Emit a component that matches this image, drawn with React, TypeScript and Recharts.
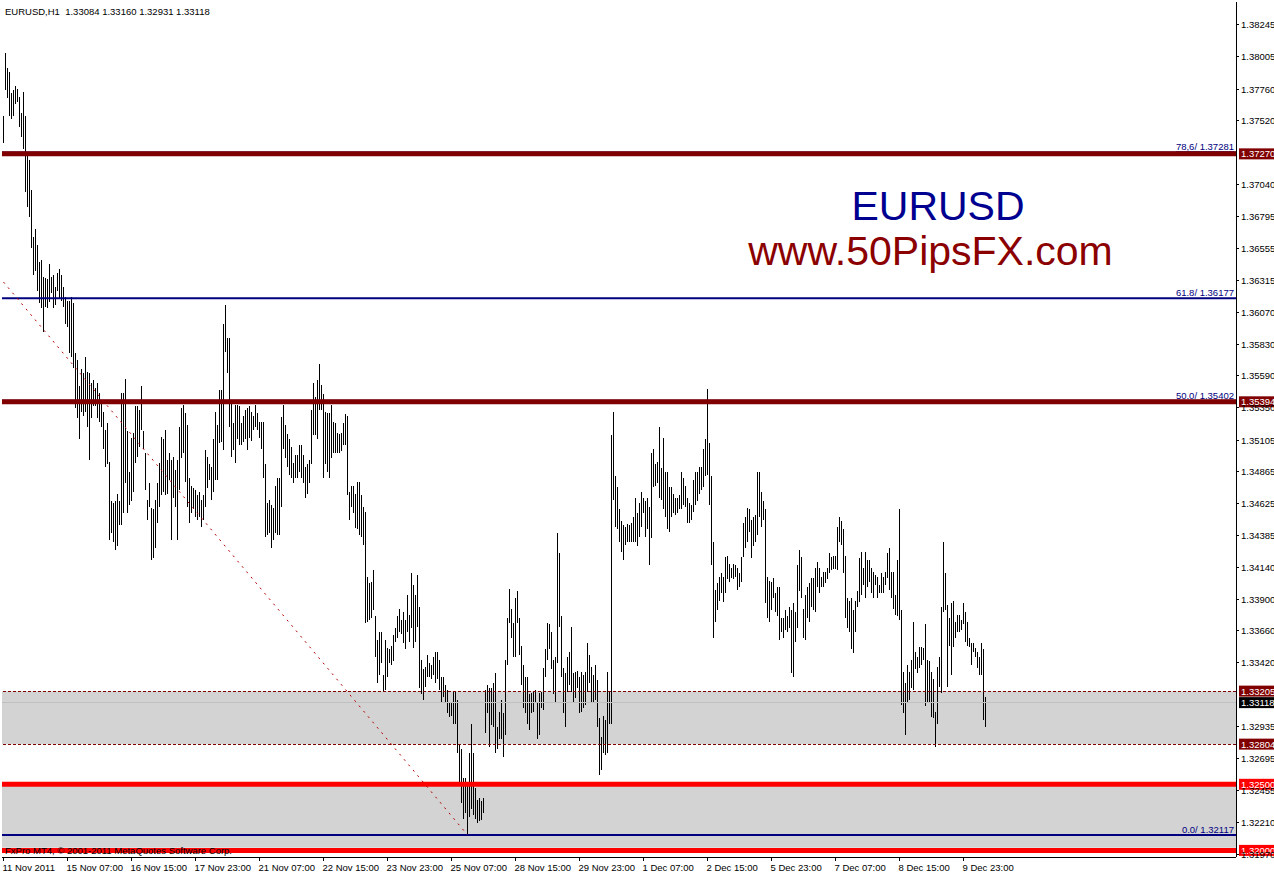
import { ComposedChart, Bar, XAxis, YAxis, ReferenceLine, ReferenceArea } from "recharts"

const FONT = '"Liberation Sans", Arial, sans-serif'

// EURUSD H1 bar highs / lows, 11 Nov 2011 -> 9 Dec 2011
const highs = [
  1.3756, 1.3803, 1.3792, 1.3789, 1.3773, 1.3775, 1.3778, 1.3776, 1.3770, 1.3758, 1.3774, 1.3756,
  1.3726, 1.3722, 1.3700, 1.3664, 1.3670, 1.3658, 1.3645, 1.3647, 1.3634, 1.3633, 1.3632, 1.3644,
  1.3634, 1.3635, 1.3626, 1.3637, 1.3640, 1.3635, 1.3626, 1.3619, 1.3616, 1.3616, 1.3619, 1.3614,
  1.3576, 1.3571, 1.3551, 1.3564, 1.3561, 1.3573, 1.3562, 1.3561, 1.3554, 1.3556, 1.3550, 1.3554,
  1.3546, 1.3541, 1.3532, 1.3518, 1.3523, 1.3494, 1.3464, 1.3463, 1.3464, 1.3470, 1.3464, 1.3546,
  1.3546, 1.3557, 1.3517, 1.3486, 1.3512, 1.3516, 1.3536, 1.3536, 1.3533, 1.3551, 1.3517, 1.3501,
  1.3465, 1.3478, 1.3459, 1.3458, 1.3465, 1.3478, 1.3493, 1.3513, 1.3511, 1.3518, 1.3495, 1.3501,
  1.3495, 1.3498, 1.3488, 1.3495, 1.3520, 1.3535, 1.3537, 1.3531, 1.3522, 1.3482, 1.3476, 1.3474,
  1.3473, 1.3469, 1.3471, 1.3465, 1.3469, 1.3503, 1.3498, 1.3492, 1.3490, 1.3511, 1.3532, 1.3522,
  1.3548, 1.3548, 1.3598, 1.3613, 1.3588, 1.3588, 1.3541, 1.3523, 1.3537, 1.3537, 1.3536, 1.3523,
  1.3529, 1.3533, 1.3535, 1.3536,
  1.3532, 1.3529, 1.3537, 1.3531, 1.3524, 1.3524, 1.3524, 1.3492, 1.3463, 1.3465, 1.3461, 1.3459,
  1.3476, 1.3482, 1.3482, 1.3528, 1.3537, 1.3522, 1.3515, 1.3511, 1.3505, 1.3493, 1.3499, 1.3499,
  1.3507, 1.3507, 1.3499, 1.3490, 1.3492, 1.3495, 1.3533, 1.3554, 1.3543, 1.3556, 1.3568, 1.3552,
  1.3545, 1.3532, 1.3531, 1.3531, 1.3537, 1.3524, 1.3523, 1.3516, 1.3515, 1.3516, 1.3523, 1.3530,
  1.3529, 1.3471, 1.3476, 1.3476, 1.3470, 1.3479, 1.3479, 1.3469, 1.3460, 1.3456, 1.3407, 1.3402,
  1.3403, 1.3412, 1.3377, 1.3359, 1.3365, 1.3365, 1.3333, 1.3359, 1.3353, 1.3352, 1.3355, 1.3363,
  1.3368, 1.3377, 1.3383, 1.3374, 1.3380, 1.3374, 1.3393, 1.3378, 1.3410, 1.3401, 1.3393, 1.3408,
  1.3384, 1.3344, 1.3337, 1.3339, 1.3348, 1.3342, 1.3340, 1.3346, 1.3350, 1.3350, 1.3344, 1.3331,
  1.3331, 1.3325, 1.3321, 1.3312, 1.3312, 1.3320, 1.3320, 1.3314, 1.3280, 1.3277, 1.3255, 1.3255,
  1.3249, 1.3274, 1.3296, 1.3274, 1.3247, 1.3238, 1.3240, 1.3237, 1.3240, 1.3321, 1.3325, 1.3323,
  1.3323, 1.3327, 1.3334, 1.3293, 1.3305,
  1.3314, 1.3304, 1.3344, 1.3376, 1.3398, 1.3383, 1.3372, 1.3391, 1.3396, 1.3376, 1.3355, 1.3340,
  1.3331, 1.3331, 1.3318, 1.3319, 1.3320, 1.3321, 1.3312, 1.3319, 1.3320, 1.3338, 1.3352, 1.3372,
  1.3371, 1.3365, 1.3344, 1.3346, 1.3440, 1.3425, 1.3377, 1.3338, 1.3334, 1.3346, 1.3350, 1.3369,
  1.3334, 1.3335, 1.3336, 1.3331, 1.3335, 1.3333, 1.3335, 1.3357, 1.3348, 1.3339, 1.3333, 1.3340,
  1.3329, 1.3300, 1.3286, 1.3302, 1.3299, 1.3335, 1.3320, 1.3514, 1.3532, 1.3483, 1.3475, 1.3458,
  1.3449, 1.3446, 1.3445, 1.3447, 1.3446, 1.3448, 1.3452, 1.3467, 1.3455, 1.3463, 1.3471, 1.3467,
  1.3464, 1.3467, 1.3460, 1.3501, 1.3504, 1.3492, 1.3494, 1.3520, 1.3489, 1.3512, 1.3486, 1.3486,
  1.3475, 1.3475, 1.3470, 1.3467, 1.3467, 1.3469, 1.3486, 1.3482, 1.3476, 1.3467, 1.3463, 1.3461,
  1.3480, 1.3486, 1.3486, 1.3490, 1.3490, 1.3504, 1.3511, 1.3549, 1.3508, 1.3483, 1.3433, 1.3397,
  1.3402, 1.3407, 1.3410, 1.3407, 1.3422, 1.3423, 1.3417, 1.3414, 1.3417, 1.3416, 1.3414, 1.3410,
  1.3422, 1.3448, 1.3452, 1.3459, 1.3458,
  1.3450, 1.3452, 1.3454, 1.3486, 1.3486, 1.3471, 1.3464, 1.3458, 1.3407, 1.3404, 1.3403, 1.3406,
  1.3395, 1.3399, 1.3399, 1.3376, 1.3376, 1.3382, 1.3377, 1.3384, 1.3382, 1.3387, 1.3380, 1.3416,
  1.3427, 1.3422, 1.3383, 1.3393, 1.3399, 1.3402, 1.3406, 1.3406, 1.3414, 1.3418, 1.3414, 1.3407,
  1.3411, 1.3411, 1.3414, 1.3425, 1.3422, 1.3423, 1.3423, 1.3445, 1.3452, 1.3449, 1.3443, 1.3423,
  1.3391, 1.3389, 1.3391, 1.3382, 1.3389, 1.3396, 1.3421, 1.3426, 1.3414, 1.3426, 1.3420, 1.3420,
  1.3414, 1.3411, 1.3408, 1.3407, 1.3401, 1.3410, 1.3407, 1.3411, 1.3425, 1.3429, 1.3411, 1.3411,
  1.3393, 1.3420, 1.3458, 1.3382, 1.3335, 1.3327, 1.3340, 1.3335, 1.3344, 1.3373, 1.3350, 1.3346,
  1.3354, 1.3354, 1.3353, 1.3371, 1.3344, 1.3343, 1.3335, 1.3330, 1.3305, 1.3339, 1.3346, 1.3384,
  1.3433, 1.3410, 1.3386, 1.3376, 1.3387, 1.3389, 1.3373, 1.3378, 1.3378, 1.3374, 1.3387, 1.3380,
  1.3373, 1.3361, 1.3357, 1.3357, 1.3353, 1.3350, 1.3346, 1.3357, 1.3352, 1.3316,
]

const lows = [
  1.3735, 1.3775, 1.3769, 1.3756, 1.3753, 1.3756, 1.3765, 1.3766, 1.3747, 1.3740, 1.3731, 1.3698,
  1.3687, 1.3679, 1.3656, 1.3635, 1.3638, 1.3623, 1.3614, 1.3610, 1.3592, 1.3611, 1.3610, 1.3615,
  1.3622, 1.3610, 1.3613, 1.3623, 1.3618, 1.3616, 1.3611, 1.3598, 1.3596, 1.3576, 1.3573, 1.3565,
  1.3535, 1.3527, 1.3511, 1.3532, 1.3529, 1.3532, 1.3520, 1.3495, 1.3527, 1.3536, 1.3536, 1.3527,
  1.3524, 1.3520, 1.3504, 1.3490, 1.3492, 1.3435, 1.3440, 1.3433, 1.3427, 1.3430, 1.3446, 1.3446,
  1.3455, 1.3478, 1.3455, 1.3461, 1.3464, 1.3471, 1.3493, 1.3498, 1.3505, 1.3518, 1.3504, 1.3473,
  1.3450, 1.3460, 1.3420, 1.3421, 1.3429, 1.3448, 1.3460, 1.3469, 1.3471, 1.3469, 1.3470, 1.3480,
  1.3435, 1.3467, 1.3460, 1.3435, 1.3473, 1.3497, 1.3501, 1.3479, 1.3460, 1.3448, 1.3455, 1.3458,
  1.3452, 1.3450, 1.3452, 1.3445, 1.3450, 1.3460, 1.3474, 1.3480, 1.3465, 1.3471, 1.3480, 1.3480,
  1.3508, 1.3509, 1.3503, 1.3577, 1.3561, 1.3520, 1.3498, 1.3503, 1.3493, 1.3511, 1.3507, 1.3507,
  1.3509, 1.3511, 1.3503, 1.3512,
  1.3510, 1.3518, 1.3520, 1.3518, 1.3512, 1.3504, 1.3482, 1.3437, 1.3439, 1.3440, 1.3429, 1.3435,
  1.3440, 1.3439, 1.3439, 1.3460, 1.3504, 1.3497, 1.3490, 1.3484, 1.3482, 1.3478, 1.3482, 1.3482,
  1.3486, 1.3482, 1.3478, 1.3467, 1.3470, 1.3478, 1.3492, 1.3514, 1.3514, 1.3511, 1.3533, 1.3533,
  1.3482, 1.3492, 1.3486, 1.3482, 1.3497, 1.3501, 1.3501, 1.3501, 1.3501, 1.3502, 1.3507, 1.3507,
  1.3469, 1.3450, 1.3460, 1.3455, 1.3444, 1.3443, 1.3439, 1.3437, 1.3431, 1.3372, 1.3373, 1.3374,
  1.3376, 1.3382, 1.3346, 1.3327, 1.3333, 1.3342, 1.3320, 1.3321, 1.3331, 1.3342, 1.3340, 1.3343,
  1.3358, 1.3361, 1.3365, 1.3364, 1.3357, 1.3352, 1.3365, 1.3358, 1.3368, 1.3353, 1.3358, 1.3369,
  1.3323, 1.3318, 1.3314, 1.3324, 1.3331, 1.3331, 1.3330, 1.3333, 1.3327, 1.3330, 1.3321, 1.3312,
  1.3316, 1.3312, 1.3304, 1.3301, 1.3302, 1.3296, 1.3296, 1.3274, 1.3251, 1.3236, 1.3224, 1.3228,
  1.3212, 1.3225, 1.3231, 1.3227, 1.3224, 1.3221, 1.3222, 1.3223, 1.3228, 1.3289, 1.3304, 1.3278,
  1.3295, 1.3293, 1.3274, 1.3277, 1.3284,
  1.3284, 1.3271, 1.3287, 1.3340, 1.3372, 1.3361, 1.3346, 1.3346, 1.3372, 1.3348, 1.3325, 1.3308,
  1.3304, 1.3296, 1.3291, 1.3304, 1.3305, 1.3312, 1.3284, 1.3287, 1.3308, 1.3306, 1.3331, 1.3344,
  1.3352, 1.3337, 1.3318, 1.3312, 1.3342, 1.3369, 1.3331, 1.3304, 1.3293, 1.3320, 1.3325, 1.3320,
  1.3312, 1.3315, 1.3323, 1.3304, 1.3305, 1.3308, 1.3310, 1.3320, 1.3327, 1.3312, 1.3312, 1.3314,
  1.3293, 1.3257, 1.3261, 1.3274, 1.3272, 1.3274, 1.3296, 1.3296, 1.3465, 1.3445, 1.3443, 1.3433,
  1.3426, 1.3420, 1.3431, 1.3433, 1.3433, 1.3433, 1.3433, 1.3433, 1.3430, 1.3437, 1.3445, 1.3455,
  1.3437, 1.3443, 1.3416, 1.3436, 1.3475, 1.3476, 1.3478, 1.3467, 1.3465, 1.3458, 1.3452, 1.3443,
  1.3441, 1.3452, 1.3455, 1.3454, 1.3455, 1.3458, 1.3458, 1.3461, 1.3460, 1.3448, 1.3448, 1.3450,
  1.3456, 1.3461, 1.3464, 1.3470, 1.3473, 1.3475, 1.3483, 1.3484, 1.3461, 1.3416, 1.3361, 1.3373,
  1.3382, 1.3389, 1.3395, 1.3388, 1.3395, 1.3405, 1.3403, 1.3406, 1.3405, 1.3407, 1.3397, 1.3399,
  1.3403, 1.3422, 1.3429, 1.3433, 1.3441,
  1.3421, 1.3430, 1.3433, 1.3439, 1.3452, 1.3445, 1.3450, 1.3387, 1.3376, 1.3373, 1.3382, 1.3391,
  1.3380, 1.3377, 1.3359, 1.3365, 1.3361, 1.3367, 1.3365, 1.3368, 1.3334, 1.3331, 1.3358, 1.3368,
  1.3396, 1.3391, 1.3361, 1.3359, 1.3376, 1.3373, 1.3384, 1.3382, 1.3380, 1.3399, 1.3395, 1.3399,
  1.3399, 1.3402, 1.3405, 1.3410, 1.3412, 1.3413, 1.3413, 1.3412, 1.3433, 1.3431, 1.3410, 1.3376,
  1.3368, 1.3365, 1.3352, 1.3349, 1.3365, 1.3384, 1.3388, 1.3393, 1.3401, 1.3391, 1.3399, 1.3403,
  1.3395, 1.3391, 1.3401, 1.3391, 1.3395, 1.3395, 1.3395, 1.3401, 1.3406, 1.3397, 1.3391, 1.3383,
  1.3378, 1.3377, 1.3374, 1.3310, 1.3304, 1.3287, 1.3312, 1.3314, 1.3323, 1.3321, 1.3337, 1.3334,
  1.3338, 1.3340, 1.3344, 1.3309, 1.3312, 1.3312, 1.3301, 1.3300, 1.3278, 1.3296, 1.3324, 1.3319,
  1.3380, 1.3382, 1.3324, 1.3355, 1.3333, 1.3354, 1.3361, 1.3365, 1.3365, 1.3367, 1.3371, 1.3358,
  1.3355, 1.3354, 1.3340, 1.3350, 1.3346, 1.3338, 1.3333, 1.3333, 1.3299, 1.3293,
]

const dateTicks = [0, 32, 64, 96, 128, 160, 192, 224, 256, 288, 320, 352, 384, 416, 448, 480]
const dateLabels = [
  "11 Nov 2011", "15 Nov 07:00", "16 Nov 15:00", "17 Nov 23:00", "21 Nov 07:00", "22 Nov 15:00",
  "23 Nov 23:00", "25 Nov 07:00", "28 Nov 15:00", "29 Nov 23:00", "1 Dec 07:00", "2 Dec 15:00",
  "5 Dec 23:00", "7 Dec 07:00", "8 Dec 15:00", "9 Dec 23:00",
]

// scale labels left visible by the price boxes
const priceTicks = [
  1.38245, 1.38005, 1.3776, 1.3752, 1.3704, 1.36795, 1.36555, 1.36315, 1.3607, 1.3583,
  1.3559, 1.3535, 1.35105, 1.34865, 1.34625, 1.34385, 1.3414, 1.339, 1.3366, 1.3342,
  1.32935, 1.32695, 1.32455, 1.3221, 1.3197,
]

const resistanceLevels = [1.3727, 1.35394]
const supportLevels = [1.325, 1.32]
const zoneTop = 1.33205
const zoneBottom = 1.32804
const lowerZone = [1.3202, 1.325]
const bidPrice = 1.33118
const fibNames = ["78,6", "61.8", "50.0", "0.0"]
const fibValues = [1.37281, 1.36177, 1.35402, 1.32117]
const fibTrend = [
  { bar: 0, price: 1.363 },
  { bar: 232, price: 1.32117 },
]

const data = highs.map((h, i) => ({ i, range: [lows[i], h] }))

const X_DOMAIN = [-0.75, 616.25]
const Y_DOMAIN = [1.3195, 1.38419]

function PriceTick({ x, y, payload }: any) {
  return (
    <text x={x} y={y + 3.5} fontSize={9.5} fontFamily={FONT} fill="#000">
      {Number(payload.value).toFixed(5)}
    </text>
  )
}

function DateTick({ x, y, payload }: any) {
  const idx = dateTicks.indexOf(payload.value)
  return (
    <text x={x - 1} y={y + 10} fontSize={9.5} fontFamily={FONT} fill="#000">
      {dateLabels[idx]}
    </text>
  )
}

function PriceBox({ viewBox, text, bg }: any) {
  const left = viewBox.x + viewBox.width + 3
  return (
    <g>
      <rect x={left} y={viewBox.y - 5.5} width={40} height={11} fill={bg} />
      <text x={left + 2} y={viewBox.y + 3.5} fontSize={9.5} fontFamily={FONT} fill="#fff">
        {text}
      </text>
    </g>
  )
}

function FibLabel({ viewBox, text, underline }: any) {
  return (
    <text
      x={viewBox.x + viewBox.width - 2}
      y={viewBox.y - 2}
      textAnchor="end"
      fontSize={9.5}
      fontFamily={FONT}
      fill="#000080"
      textDecoration={underline ? "underline" : undefined}
    >
      {text}
    </text>
  )
}

export default function App() {
  return (
    <div style={{ position: "absolute", left: 0, top: 0, width: 1274, height: 875, background: "#fff" }}>
      <ComposedChart width={1274} height={875} data={data} margin={{ top: 2, right: 0, bottom: 0, left: 2 }}>
        <XAxis
          dataKey="i"
          type="number"
          domain={X_DOMAIN}
          allowDataOverflow
          ticks={dateTicks}
          interval={0}
          height={18}
          tickSize={4}
          tickMargin={0}
          tick={<DateTick />}
          tickLine={{ stroke: "#000", shapeRendering: "crispEdges" }}
          axisLine={{ stroke: "#000", shapeRendering: "crispEdges" }}
        />
        <XAxis
          xAxisId="top"
          orientation="top"
          dataKey="i"
          type="number"
          domain={X_DOMAIN}
          allowDataOverflow
          height={0}
          tick={false}
          tickLine={false}
          axisLine={{ stroke: "#000", shapeRendering: "crispEdges" }}
        />
        <YAxis
          orientation="right"
          type="number"
          domain={Y_DOMAIN}
          allowDataOverflow
          ticks={priceTicks}
          interval={0}
          width={38}
          tickSize={3}
          tickMargin={2}
          tick={<PriceTick />}
          tickLine={{ stroke: "#000", shapeRendering: "crispEdges" }}
          axisLine={{ stroke: "#000", shapeRendering: "crispEdges" }}
        />
        <YAxis
          yAxisId="left"
          orientation="left"
          type="number"
          domain={Y_DOMAIN}
          allowDataOverflow
          width={0}
          tick={false}
          tickLine={false}
          axisLine={{ stroke: "#000", shapeRendering: "crispEdges" }}
        />

        <ReferenceArea y1={zoneBottom} y2={zoneTop} fill="#d3d3d3" fillOpacity={1} stroke="none" />
        <ReferenceArea y1={lowerZone[0]} y2={lowerZone[1]} fill="#d3d3d3" fillOpacity={1} stroke="none" />
        <ReferenceLine
          y={bidPrice}
          stroke="#c0c0c0"
          shapeRendering="crispEdges"
          label={<PriceBox text={bidPrice.toFixed(5)} bg="#000" />}
        />

        <Bar
          dataKey="range"
          barSize={1}
          fill="#000"
          isAnimationActive={false}
          shape={(p: any) => (
            <rect x={p.x} y={p.y} width={p.width} height={p.height} fill="#000" shapeRendering="crispEdges" />
          )}
        />

        {[zoneTop, zoneBottom].map((v) => (
          <ReferenceLine
            key={v}
            y={v}
            stroke="#800000"
            strokeDasharray="3 2"
            shapeRendering="crispEdges"
            label={<PriceBox text={v.toFixed(5)} bg="#800000" />}
          />
        ))}

        {fibValues.map((v, k) => (
          <ReferenceLine
            key={"fib" + k}
            y={v}
            stroke="#000080"
            strokeWidth={2}
            label={<FibLabel text={`${fibNames[k]}/ ${v.toFixed(5)}`} underline={k === 0} />}
          />
        ))}

        {resistanceLevels.map((v) => (
          <ReferenceLine
            key={v}
            y={v}
            stroke="#800000"
            strokeWidth={5}
            label={<PriceBox text={v.toFixed(5)} bg="#800000" />}
          />
        ))}
        {supportLevels.map((v) => (
          <ReferenceLine
            key={v}
            y={v}
            stroke="#ff0000"
            strokeWidth={5}
            label={<PriceBox text={v.toFixed(5)} bg="#ff0000" />}
          />
        ))}

        <ReferenceLine
          segment={[
            { x: fibTrend[0].bar, y: fibTrend[0].price },
            { x: fibTrend[1].bar, y: fibTrend[1].price },
          ]}
          stroke="#b00000"
          strokeDasharray="2 5"
        />
      </ComposedChart>

      <div
        style={{
          position: "absolute",
          left: 5,
          top: 6.5,
          fontFamily: FONT,
          fontSize: 9.5,
          lineHeight: 1,
          whiteSpace: "pre",
          color: "#000",
        }}
      >
        {"EURUSD,H1  1.33084 1.33160 1.32931 1.33118"}
      </div>
      <div
        style={{
          position: "absolute",
          left: 5,
          top: 845.5,
          fontFamily: FONT,
          fontSize: 9.5,
          lineHeight: 1,
          whiteSpace: "pre",
          color: "#000",
        }}
      >
        FxPro MT4, © 2001-2011 MetaQuotes Software Corp.
      </div>
      <div
        style={{
          position: "absolute",
          left: 938,
          top: 186,
          transform: "translateX(-50%)",
          fontFamily: FONT,
          fontSize: 41,
          lineHeight: 1,
          whiteSpace: "pre",
          color: "#000090",
        }}
      >
        EURUSD
      </div>
      <div
        style={{
          position: "absolute",
          left: 930.5,
          top: 231,
          transform: "translateX(-50%)",
          fontFamily: FONT,
          fontSize: 41,
          lineHeight: 1,
          whiteSpace: "pre",
          color: "#8b0000",
        }}
      >
        www.50PipsFX.com
      </div>
    </div>
  )
}
